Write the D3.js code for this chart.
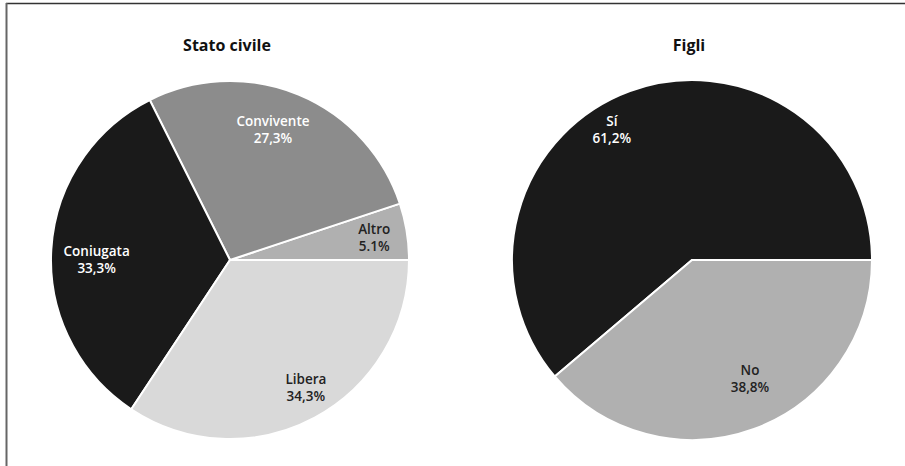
<!DOCTYPE html>
<html><head><meta charset="utf-8">
<script src="https://cdn.jsdelivr.net/npm/d3@7"></script>
<style>
html,body{margin:0;padding:0;background:#fff;}
svg{display:block;font-family:"Open Sans","Noto Sans",sans-serif;}
</style></head>
<body>
<svg id="chart" width="905" height="466"></svg>
<script>
// Data
const titles = ["Stato civile", "Figli"];
const statoCategories = ["Altro", "Convivente", "Coniugata", "Libera"];
const statoValues = [5.1, 27.3, 33.3, 34.3];
const statoLabels = ["5.1%", "27,3%", "33,3%", "34,3%"];
const figliCategories = ["Sí", "No"];
const figliValues = [61.2, 38.8];
const figliLabels = ["61,2%", "38,8%"];

// Styles / layout
const statoColors = ["#b0b0b0", "#8c8c8c", "#1a1a1a", "#d9d9d9"];
const statoText = ["#222", "#fff", "#fff", "#222"];
const figliColors = ["#1a1a1a", "#b0b0b0"];
const figliText = ["#fff", "#222"];
// label placement: [angle in degrees clockwise from 12 o'clock, radius fraction]
const statoLabelPos = [[81.3, 0.815], [18.3, 0.765], [-90, 0.745], [149.3, 0.83]];
const figliLabelPos = [[-31.6, 0.85], [154, 0.735]];

const svg = d3.select("#chart");

// frame
svg.append("line").attr("x1", 6).attr("y1", 3.5).attr("x2", 905).attr("y2", 3.5)
  .attr("stroke", "#333").attr("stroke-width", 1.5);
svg.append("line").attr("x1", 6.5).attr("y1", 3).attr("x2", 6.5).attr("y2", 466)
  .attr("stroke", "#666").attr("stroke-width", 2);

function drawPie(cx, cy, r, title, cats, vals, labels, colors, textColors, labelPos) {
  const g = svg.append("g").attr("transform", `translate(${cx},${cy})`);
  const pie = d3.pie().sort(null).value(d => d)
    .startAngle(Math.PI / 2).endAngle(Math.PI / 2 - 2 * Math.PI);
  const arcs = pie(vals);
  const arc = d3.arc().innerRadius(0).outerRadius(r);
  g.selectAll("path.slice").data(arcs).join("path")
    .attr("class", "slice")
    .attr("d", arc)
    .attr("fill", (d, i) => colors[i])
    .attr("stroke", "#fff").attr("stroke-width", 2).attr("stroke-linejoin", "round");
  const lab = g.selectAll("text.lab").data(arcs).join("text")
    .attr("class", "lab")
    .attr("text-anchor", "middle")
    .attr("font-size", 13.5).attr("font-weight", 600)
    .attr("fill", (d, i) => textColors[i])
    .attr("transform", (d, i) => {
      const a = labelPos[i][0] * Math.PI / 180, rr = labelPos[i][1] * r;
      return `translate(${rr * Math.sin(a)},${-rr * Math.cos(a)})`;
    });
  lab.append("tspan").attr("x", 0).attr("y", -4).text((d, i) => cats[i]);
  lab.append("tspan").attr("x", 0).attr("y", 13).text((d, i) => labels[i]);
  svg.append("text").attr("x", cx - 3).attr("y", 51)
    .attr("text-anchor", "middle").attr("font-size", 16).attr("font-weight", 700)
    .attr("fill", "#111").text(title);
}

drawPie(230, 260, 179, titles[0], statoCategories, statoValues, statoLabels, statoColors, statoText, statoLabelPos);
drawPie(692, 260, 180, titles[1], figliCategories, figliValues, figliLabels, figliColors, figliText, figliLabelPos);
</script>
</body></html>
